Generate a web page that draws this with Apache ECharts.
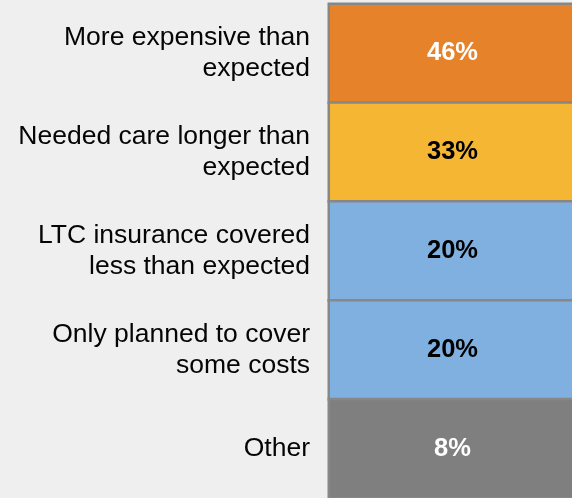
<!DOCTYPE html>
<html>
<head>
<meta charset="utf-8">
<script src="https://cdn.jsdelivr.net/npm/echarts@6/dist/echarts.min.js"></script>
<style>
  html, body { margin: 0; padding: 0; background: #efefef; overflow: hidden; }
  /* the panel runs past the right edge of the window, so the canvas is a bit wider */
  #chart { width: 580px; height: 498px; }
</style>
</head>
<body>
<div id="chart"></div>
<script>
// Reasons long-term care costs exceeded plans (share of respondents)
const reasons = [
  'More expensive than\nexpected',
  'Needed care longer than\nexpected',
  'LTC insurance covered\nless than expected',
  'Only planned to cover\nsome costs',
  'Other'
];
const shares = [46, 33, 20, 20, 8];
const fillColors = ['#e5822a', '#f4b633', '#7fb0e0', '#7fb0e0', '#7f7f7f'];
const labelColors = ['#ffffff', '#000000', '#000000', '#000000', '#ffffff'];

const cells = shares.map((v, i) => ({
  value: [0, i, v],
  itemStyle: { color: fillColors[i] },
  label: { color: labelColors[i] }
}));

const chart = echarts.init(document.getElementById('chart'), null, { renderer: 'canvas' });
chart.setOption({
  backgroundColor: '#efefef',
  animation: false,
  grid: { left: 329, top: 4, right: 4, bottom: 0, containLabel: false },
  xAxis: {
    type: 'category',
    data: ['share'],
    show: false
  },
  yAxis: {
    type: 'category',
    data: reasons,
    inverse: true,
    axisLine: { show: false },
    axisTick: { show: false },
    splitLine: { show: false },
    axisLabel: {
      margin: 19,
      align: 'right',
      color: '#050505',
      fontFamily: "'Liberation Sans', Arial, sans-serif",
      fontSize: 26.5,
      lineHeight: 31
    }
  },
  series: [{
    type: 'heatmap',
    data: cells,
    itemStyle: { borderColor: '#878787', borderWidth: 2.5 },
    label: {
      show: true,
      formatter: p => p.value[2] + '%',
      fontFamily: "'Liberation Sans', Arial, sans-serif",
      fontWeight: 'bold',
      fontSize: 25.5
    },
    emphasis: { disabled: true }
  }]
});
</script>
</body>
</html>
